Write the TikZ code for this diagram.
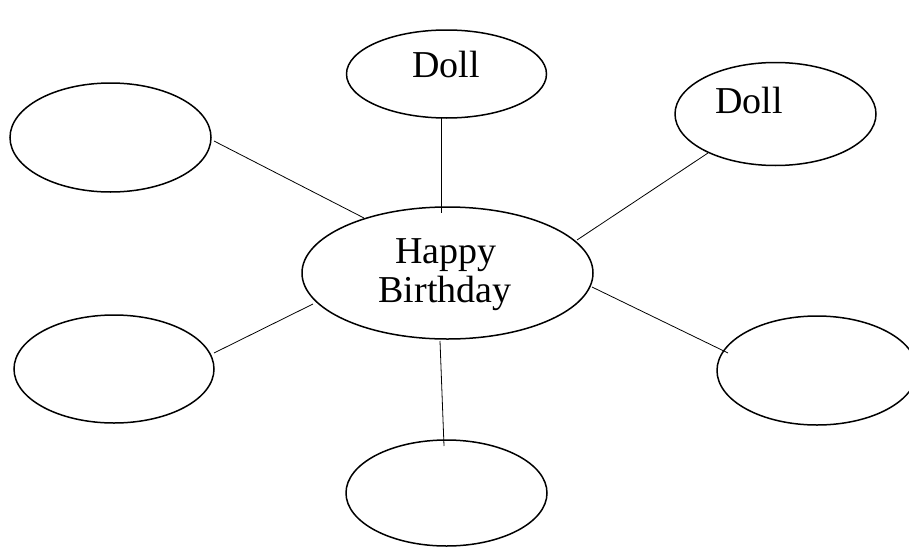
\documentclass[tikz,border=0pt]{standalone}
\usepackage{fontspec}
\setmainfont{Liberation Serif}
\usetikzlibrary{shapes.geometric}
\begin{document}
\begin{tikzpicture}[x=1pt,y=-1pt,
  bubble/.style={draw=black,line width=1.5pt,ellipse,inner sep=0pt},
  spoke/.style={draw=black,line width=0.8pt},
  lbl/.style={inner sep=0pt,anchor=base,font=\fontsize{38}{39}\selectfont}]
\useasboundingbox (0,0) rectangle (909,546);
\fill[white] (0,0) rectangle (909,546);
\begin{scope}
\clip (0,0) rectangle (909,546);
\node[bubble,minimum width=291pt,minimum height=132pt] (hb) at (447.5,273) {};
\node[bubble,minimum width=200pt,minimum height=88pt] (top) at (446.5,74) {};
\node[bubble,minimum width=201pt,minimum height=103pt] (tr) at (775.5,114) {};
\node[bubble,minimum width=201pt,minimum height=109pt] (tl) at (110.5,137.5) {};
\node[bubble,minimum width=200pt,minimum height=108pt] (bl) at (114,369) {};
\node[bubble,minimum width=200pt,minimum height=109pt] (br) at (817,370.5) {};
\node[bubble,minimum width=201pt,minimum height=106pt] (bot) at (446.5,493) {};
\end{scope}
\node[lbl] (t1) at (446,77) {Doll};
\node[lbl] (t2) at (749,113) {Doll};
\node[lbl] (t3) at (446,263) {Happy};
\node[lbl] (t4) at (445,302) {Birthday};
% connector end points
\coordinate (a1) at (441,117); \coordinate (a2) at (441,213);
\coordinate (b1) at (708,153); \coordinate (b2) at (577,240);
\coordinate (c1) at (214,141); \coordinate (c2) at (364,218);
\coordinate (d1) at (214,353); \coordinate (d2) at (313,304);
\coordinate (e1) at (592,287); \coordinate (e2) at (728,353);
\coordinate (f1) at (440,341); \coordinate (f2) at (444,446);
\draw[spoke] (a1) -- (a2);
\draw[spoke] (b1) -- (b2);
\draw[spoke] (c1) -- (c2);
\draw[spoke] (d1) -- (d2);
\draw[spoke] (e1) -- (e2);
\draw[spoke] (f1) -- (f2);
\end{tikzpicture}
\end{document}
